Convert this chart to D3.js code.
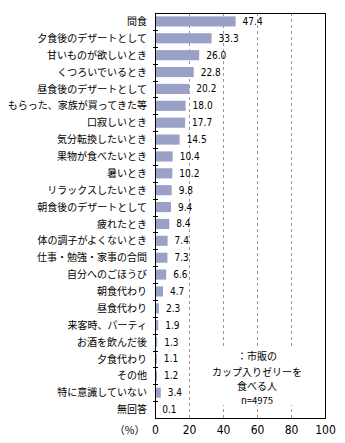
<!DOCTYPE html>
<html><head><meta charset="utf-8">
<script src="https://cdn.jsdelivr.net/npm/d3@7"></script>
<style>body{margin:0;background:#fff}svg{display:block}</style>
</head><body>
<script>
const categories = ["間食","夕食後のデザートとして","甘いものが欲しいとき","くつろいでいるとき","昼食後のデザートとして","もらった、家族が買ってきた等","口寂しいとき","気分転換したいとき","果物が食べたいとき","暑いとき","リラックスしたいとき","朝食後のデザートとして","疲れたとき","体の調子がよくないとき","仕事・勉強・家事の合間","自分へのごほうび","朝食代わり","昼食代わり","来客時、パーティ","お酒を飲んだ後","夕食代わり","その他","特に意識していない","無回答"];
const values = [47.4,33.3,26.0,22.8,20.2,18.0,17.7,14.5,10.4,10.2,9.8,9.4,8.4,7.4,7.3,6.6,4.7,2.3,1.9,1.3,1.1,1.2,3.4,0.1];
const xTicks = [0,20,40,60,80,100];
const noteLines = ["：市販の","カップ入りゼリーを","食べる人","n=4975"];

const W=345,H=443;
const m={l:155,r:20,t:13,b:25};
const svg=d3.select("body").append("svg").attr("width",W).attr("height",H);
const font="'Noto Sans CJK JP', sans-serif";
const narrow="'Liberation Sans Narrow', 'DejaVu Sans Condensed', sans-serif";
const x=d3.scaleLinear().domain([0,100]).range([m.l,W-m.r]);
const y=d3.scaleBand().domain(categories).range([m.t,H-m.b]).paddingInner(0.4).paddingOuter(0.2);
const y0=m.t,y1=H-m.b;

// gridlines
svg.append("g").selectAll("line").data(xTicks.filter(d=>d>0&&d<100)).join("line")
  .attr("x1",d=>x(d)+0.5).attr("x2",d=>x(d)+0.5).attr("y1",y0).attr("y2",y1)
  .attr("stroke","#999").attr("stroke-dasharray","3,3");

// annotation background
svg.append("rect").attr("x",x(33)).attr("y",346).attr("width",x(82)-x(33)).attr("height",59).attr("fill","#fff");
svg.append("g").selectAll("text").data(noteLines).join("text")
  .attr("x",x(60)).attr("y",(d,i)=>[360,376,390,404][i])
  .attr("text-anchor","middle").attr("font-family",font)
  .attr("font-size",(d,i)=>i===3?9.5:10).text(d=>d);

// bars
svg.append("g").selectAll("rect").data(values).join("rect")
  .attr("x",x(0)).attr("y",(d,i)=>y(categories[i]))
  .attr("width",d=>x(d)-x(0)).attr("height",y.bandwidth())
  .attr("fill","#9aa0c6");

// value labels
svg.append("g").selectAll("text").data(values).join("text")
  .attr("x",d=>x(d)+7).attr("y",(d,i)=>y(categories[i])+y.bandwidth()/2)
  .attr("dy","0.35em").attr("font-family",narrow).attr("font-size",10)
  .text(d=>d.toFixed(1));

// frame
svg.append("rect").attr("x",m.l+0.5).attr("y",y0+0.5).attr("width",x(100)-x(0)).attr("height",y1-y0)
  .attr("fill","none").attr("stroke","#000");

// left category boundary ticks
svg.append("g").selectAll("line").data(d3.range(1,categories.length)).join("line")
  .attr("x1",m.l-2).attr("x2",m.l+3)
  .attr("y1",d=>Math.round(y0+(y1-y0)*d/categories.length)+0.5)
  .attr("y2",d=>Math.round(y0+(y1-y0)*d/categories.length)+0.5)
  .attr("stroke","#000");

// category labels
svg.append("g").selectAll("text").data(categories).join("text")
  .attr("x",m.l-8).attr("y",d=>y(d)+y.bandwidth()/2).attr("dy","0.36em")
  .attr("text-anchor","end").attr("font-family",font).attr("font-size",10).attr("fill","#000").text(d=>d);

// x tick labels
const xa=d3.axisBottom(x).tickValues(xTicks).tickSize(0).tickPadding(7);
const gx=svg.append("g").attr("transform",`translate(0,${y1})`).call(xa);
gx.select(".domain").remove();
gx.selectAll("text").attr("font-family",narrow).attr("font-size",12).attr("fill","#000");
svg.append("text").attr("x",145).attr("y",434).attr("text-anchor","end")
  .attr("font-family",font).attr("font-size",10.5).text("（%）");
</script>
</body></html>
